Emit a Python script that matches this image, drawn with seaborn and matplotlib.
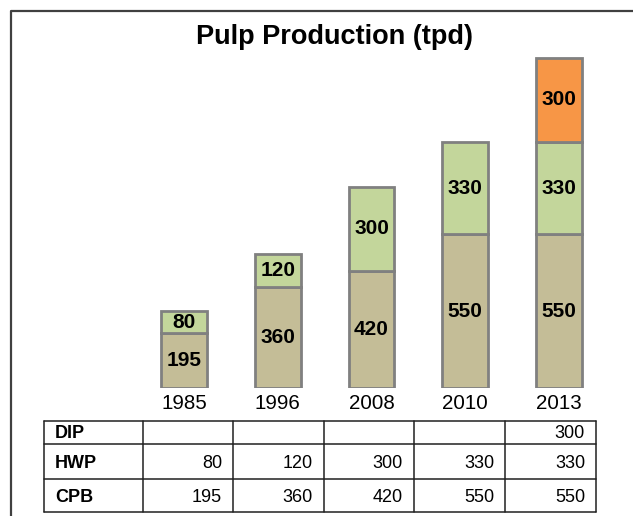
import numpy as np
import pandas as pd
import matplotlib
matplotlib.use("Agg")
import matplotlib.pyplot as plt
import seaborn as sns

years = ["1985", "1996", "2008", "2010", "2013"]
series = ["CPB", "HWP", "DIP"]
cpb = [195, 360, 420, 550, 550]
hwp = [80, 120, 300, 330, 330]
dip = [np.nan, np.nan, np.nan, np.nan, 300]

COLORS = {"CPB": "#C4BD97", "HWP": "#C3D69B", "DIP": "#F79646"}

df = pd.DataFrame({"year": years, "CPB": cpb, "HWP": hwp, "DIP": dip})

sns.set_theme(style="white")
plt.rcParams["font.family"] = ["Liberation Sans", "DejaVu Sans"]

W, H = 633, 516
fig = plt.figure(figsize=(W / 100, H / 100), dpi=100)

# bar axes placed in pixel terms: baseline at y=388, 0.2797 px per tpd
ymax = 1300
px_per = 330 / 1180
ax = fig.add_axes([137 / W, (H - 388) / H, 469 / W, ymax * px_per / H])

bottom = np.zeros(len(years))
for s in series:
    vals = df[s].to_numpy(dtype=float)
    mask = ~np.isnan(vals)
    sub = df[mask]
    sns.barplot(data=sub, x="year", y=s, order=years, ax=ax, color=COLORS[s],
                saturation=1, width=0.49, edgecolor="#808080", linewidth=2,
                errorbar=None, bottom=bottom[mask])
    for i in np.where(mask)[0]:
        ax.text(i, bottom[i] + vals[i] / 2, f"{int(vals[i])}", ha="center",
                va="center", fontsize=15, fontweight="bold", color="black")
    bottom = bottom + np.nan_to_num(vals)

ax.set_xlim(-0.5, len(years) - 0.5)
ax.set_ylim(0, ymax)
ax.set_xlabel("")
ax.set_ylabel("")
ax.set_yticks([])
ax.tick_params(axis="x", length=0, pad=4.5, labelsize=14.8, colors="black")
for sp in ax.spines.values():
    sp.set_visible(False)
ax.patch.set_alpha(0)

# overlay in pixel coordinates for frame, title and data table
ov = fig.add_axes([0, 0, 1, 1], zorder=-1)
ov.set_xlim(0, W)
ov.set_ylim(H, 0)
ov.axis("off")
ov.plot([10.5, 10.5, W], [H, 10.5, 10.5], color="#404040", lw=1.6)
ov.text(335, 37, "Pulp Production (tpd)", ha="center", va="center",
        fontsize=19.5, fontweight="bold", color="black")

col_edges = [44, 143, 233, 324, 414, 505, 596]
row_edges = [421, 444, 479, 512]
for x in col_edges:
    ov.plot([x, x], [row_edges[0], row_edges[-1]], color="#202020", lw=1.1)
for y in row_edges:
    ov.plot([col_edges[0], col_edges[-1]], [y, y], color="#202020", lw=1.1)

table_rows = [("DIP", dip), ("HWP", hwp), ("CPB", cpb)]
for r, (name, vals) in enumerate(table_rows):
    yc = (row_edges[r] + row_edges[r + 1]) / 2 + 1.5
    ov.text(col_edges[0] + 11, yc, name, ha="left", va="center",
            fontsize=13, fontweight="bold", color="black")
    for c, v in enumerate(vals):
        if np.isnan(v):
            continue
        ov.text(col_edges[c + 2] - 11, yc, f"{int(v)}", ha="right",
                va="center", fontsize=13, color="black")

fig.savefig("out.png", dpi=100)
